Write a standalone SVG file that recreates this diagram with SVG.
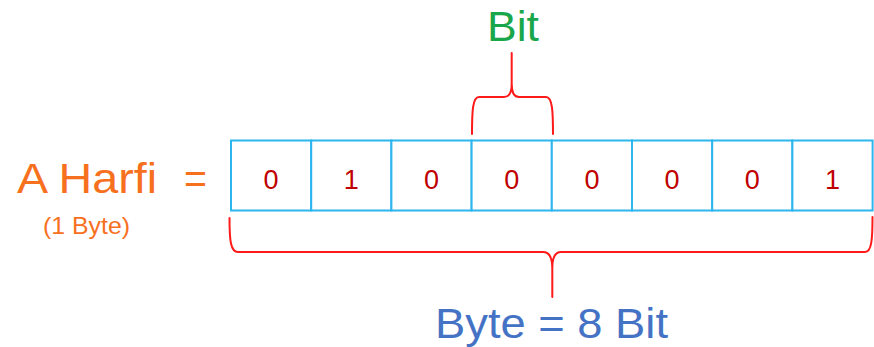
<svg xmlns="http://www.w3.org/2000/svg" width="874" height="347" viewBox="0 0 874 347">
<style>
text{font-family:"Liberation Sans",Arial,sans-serif}
.big{font-size:43px}
.orange{fill:#F7701E}
.digit{font-size:27px;fill:#C00000;text-anchor:middle}
.cell{fill:#FFFFFF;stroke:#2DB5EE;stroke-width:2}
.brace{fill:none;stroke:#FF1A1A;stroke-width:2;stroke-linecap:round;stroke-linejoin:round}
</style>
<rect width="874" height="347" fill="#FFFFFF"/>
<g id="label-a-harfi">
<text class="big orange" x="17" y="193" textLength="140" lengthAdjust="spacingAndGlyphs">A Harfi</text>
<text class="big orange" x="184" y="193" textLength="23" lengthAdjust="spacingAndGlyphs">=</text>
<text class="orange" x="43" y="234" font-size="24" textLength="87" lengthAdjust="spacingAndGlyphs">(1 Byte)</text>
</g>
<g id="byte-cells">
<rect class="cell" x="231" y="140.5" width="80.2" height="70"/>
<rect class="cell" x="311.2" y="140.5" width="80.2" height="70"/>
<rect class="cell" x="391.4" y="140.5" width="80.2" height="70"/>
<rect class="cell" x="471.6" y="140.5" width="80.2" height="70"/>
<rect class="cell" x="551.8" y="140.5" width="80.2" height="70"/>
<rect class="cell" x="632" y="140.5" width="80.2" height="70"/>
<rect class="cell" x="712.2" y="140.5" width="80.2" height="70"/>
<rect class="cell" x="792.4" y="140.5" width="80.2" height="70"/>
<text class="digit" x="271.1" y="188.5">0</text>
<text class="digit" x="351.3" y="188.5">1</text>
<text class="digit" x="431.5" y="188.5">0</text>
<text class="digit" x="511.7" y="188.5">0</text>
<text class="digit" x="591.9" y="188.5">0</text>
<text class="digit" x="672.1" y="188.5">0</text>
<text class="digit" x="752.3" y="188.5">0</text>
<text class="digit" x="832.5" y="188.5">1</text>
</g>
<g id="connectors">
<path class="brace" d="M472,134 C472,112 472.5,97 479,97 L504,97 C510,97 511.7,92 511.7,84 L511.7,53 M511.7,84 C511.7,92 513.4,97 519,97 L546,97 C552.5,97 553,112 553,134"/>
<path class="brace" d="M229.5,218 C229.5,240 230.5,252 238,252 L543,252 C550,252 552.3,258 552.3,268 L552.3,297 M552.3,268 C552.3,258 554.6,252 561,252 L865,252 C871.5,252 872.5,240 872.5,217"/>
</g>
<g id="label-bit">
<text class="big" x="487" y="41" fill="#1AA64A" textLength="52" lengthAdjust="spacingAndGlyphs">Bit</text>
</g>
<g id="label-byte">
<text class="big" x="435" y="338" fill="#4472C4" textLength="233" lengthAdjust="spacingAndGlyphs">Byte = 8 Bit</text>
</g>
</svg>
